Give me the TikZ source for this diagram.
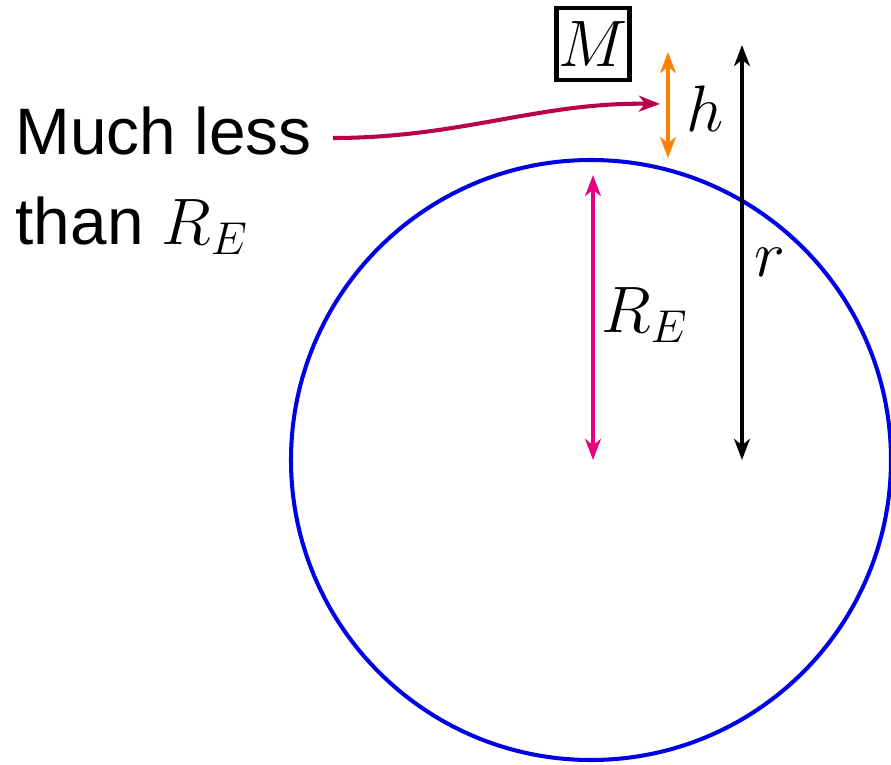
\RequirePackage{fix-cm}
\documentclass[tikz,border=0pt]{standalone}
\usepackage{fontspec}
\setmainfont{Liberation Sans}
\usetikzlibrary{arrows.meta}

\definecolor{earthblue}{RGB}{0,0,230}
\definecolor{radpink}{RGB}{230,0,130}
\definecolor{hgtorange}{RGB}{255,128,0}
\definecolor{notecrimson}{RGB}{185,0,75}

\tikzset{
    dimarrow/.style={line width=1.15pt,{Stealth[length=6pt,width=4.5pt,inset=1.8pt]}-{Stealth[length=6pt,width=4.5pt,inset=1.8pt]}},
    notearrow/.style={line width=1.15pt,-{Stealth[length=6pt,width=4.5pt,inset=1.8pt]}}
}

\begin{document}
\begin{tikzpicture}[font=\fontsize{18.7}{25.6}\selectfont]

        \useasboundingbox (0,0) rectangle (8.91,7.64);

        % Earth
        \coordinate (centre) at (5.91,3.04);
        \draw[earthblue,line width=1.15pt] (centre) circle (3.0);

        % Radius of the Earth
        \coordinate (retop) at (5.93,5.89);
        \coordinate (rebot) at (5.93,3.04);
        \draw[dimarrow,radpink] (retop) -- (rebot);
        \node (relabel) at (6.45,4.49) {$R_E$};

        % Distance to the mass
        \coordinate (rtop) at (7.42,7.19);
        \coordinate (rbot) at (7.42,3.04);
        \draw[dimarrow,black] (rtop) -- (rbot);
        \node (rlabel) at (7.70,5.02) {$r$};

        % Height above the surface
        \coordinate (htop) at (6.68,7.12);
        \coordinate (hbot) at (6.68,6.06);
        \draw[dimarrow,hgtorange] (htop) -- (hbot);
        \node (hlabel) at (7.05,6.55) {$h$};

        % Mass
        \node[draw,line width=1.2pt,minimum width=0.73cm,minimum height=0.72cm,inner sep=0pt] (mass) at (5.93,7.20) {$M$};

        % Note
        \node[align=left,anchor=north west,inner sep=0pt] (note) at (0.15,6.58) {Much less\\than $R_E$};
        \coordinate (notestart) at (3.33,6.26);
        \coordinate (noteend) at (6.60,6.60);
        \draw[notearrow,notecrimson] (notestart) .. controls (4.6,6.26) and (5.4,6.62) .. (noteend);

    \end{tikzpicture}
\end{document}
